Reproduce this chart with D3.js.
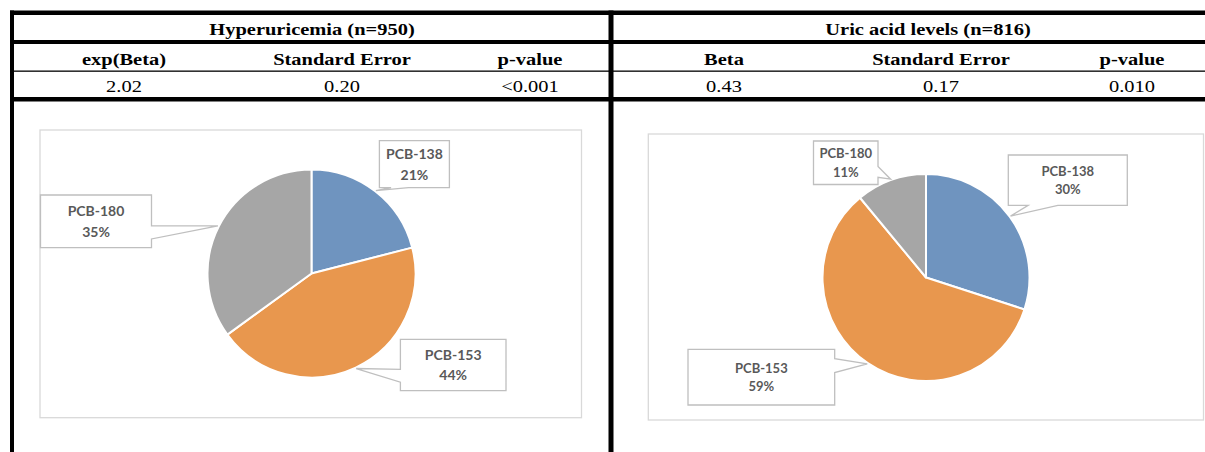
<!DOCTYPE html>
<html>
<head>
<meta charset="utf-8">
<script src="https://cdn.jsdelivr.net/npm/d3@7"></script>
<style>
  html, body { margin: 0; padding: 0; background: #fff; }
  svg { display: block; }
</style>
</head>
<body>
<svg id="chart" width="1205" height="452"></svg>
<script>
// ---- Data ----
const compounds = ["PCB-138", "PCB-153", "PCB-180"];
const hyperuricemiaShare = [21, 44, 35];   // % contribution, hyperuricemia model
const uricAcidShare = [30, 59, 11];        // % contribution, uric acid model

const tableTitles = ["Hyperuricemia (n=950)", "Uric acid levels (n=816)"];
const hyperHeaders = ["exp(Beta)", "Standard Error", "p-value"];
const hyperValues = ["2.02", "0.20", "<0.001"];
const uricHeaders = ["Beta", "Standard Error", "p-value"];
const uricValues = ["0.43", "0.17", "0.010"];

const sliceColors = ["#6f94bf", "#e8974e", "#a6a6a6"];

// ---- Layout ----
const panels = [
  {
    title: tableTitles[0], headers: hyperHeaders, values: hyperValues, shares: hyperuricemiaShare,
    titleX: 312, colX: [124, 342, 530],
    frame: [40, 130, 581.5, 417.7],
    center: [311.5, 273.5], r: 104,
    fontSize: 14, lineGap: 20.7,
    callouts: [[379.4, 140.7, 70, 47], [400.4, 339.3, 105.6, 51.4], [40.5, 195, 111, 52.7]]
  },
  {
    title: tableTitles[1], headers: uricHeaders, values: uricValues, shares: uricAcidShare,
    titleX: 928, colX: [724, 941, 1132],
    frame: [648.3, 134, 1203.5, 420],
    center: [926, 277.5], r: 103.5,
    fontSize: 13, lineGap: 18.4,
    callouts: [[1008.3, 155, 119, 50.3], [688, 349.3, 146.7, 55.7], [813.5, 141, 64.5, 43.5]]
  }
];

const svg = d3.select("#chart");

// ---- Table rules ----
const rules = [
  { x: 10, y: 10.5, w: 1195, h: 4.5 },
  { x: 10, y: 40, w: 1195, h: 4 },
  { x: 10, y: 70.5, w: 1195, h: 1.3 },
  { x: 10, y: 97, w: 1195, h: 4.5 },
  { x: 10, y: 10.5, w: 4, h: 442 },
  { x: 608.5, y: 10.5, w: 5, h: 442 }
];
svg.append("g").selectAll("rect").data(rules).join("rect")
  .attr("x", d => d.x).attr("y", d => d.y)
  .attr("width", d => d.w).attr("height", d => d.h)
  .attr("fill", "#000");

// Serif table text, slightly widened like the source typesetting
function tableText(g, x, y, str, bold) {
  g.append("text")
    .attr("transform", `translate(${x},${y}) scale(1.17,1)`)
    .attr("text-anchor", "middle")
    .attr("font-family", "'Liberation Serif', 'Times New Roman', serif")
    .attr("font-size", 17.5)
    .attr("font-weight", bold ? "bold" : "normal")
    .attr("fill", "#000")
    .text(str);
}

// Wedge-shaped callout outline (rectangle with a pointer towards the tip)
function calloutPath(x, y, w, h, tx, ty) {
  const cx = x + w / 2, cy = y + h / 2;
  const dx = (tx - cx) / w, dy = (ty - cy) / h;
  const p = d3.path();
  p.moveTo(x, y);
  if (Math.abs(dx) > Math.abs(dy)) {
    const b1 = ty < cy ? y + h * 2 / 12 : y + h * 7 / 12;
    const b2 = ty < cy ? y + h * 5 / 12 : y + h * 10 / 12;
    if (dx > 0) {
      p.lineTo(x + w, y); p.lineTo(x + w, b1); p.lineTo(tx, ty); p.lineTo(x + w, b2);
      p.lineTo(x + w, y + h); p.lineTo(x, y + h);
    } else {
      p.lineTo(x + w, y); p.lineTo(x + w, y + h); p.lineTo(x, y + h);
      p.lineTo(x, b2); p.lineTo(tx, ty); p.lineTo(x, b1);
    }
  } else {
    const b1 = tx < cx ? x + w * 2 / 12 : x + w * 7 / 12;
    const b2 = tx < cx ? x + w * 5 / 12 : x + w * 10 / 12;
    if (dy > 0) {
      p.lineTo(x + w, y); p.lineTo(x + w, y + h);
      p.lineTo(b2, y + h); p.lineTo(tx, ty); p.lineTo(b1, y + h); p.lineTo(x, y + h);
    } else {
      p.lineTo(b1, y); p.lineTo(tx, ty); p.lineTo(b2, y);
      p.lineTo(x + w, y); p.lineTo(x + w, y + h); p.lineTo(x, y + h);
    }
  }
  p.closePath();
  return p.toString();
}

panels.forEach(pn => {
  const g = svg.append("g");

  // table header and statistics
  tableText(g, pn.titleX, 34.5, pn.title, true);
  pn.headers.forEach((h, i) => tableText(g, pn.colX[i], 65.3, h, true));
  pn.values.forEach((v, i) => tableText(g, pn.colX[i], 92, v, false));

  // chart frame
  const [fx0, fy0, fx1, fy1] = pn.frame;
  g.append("rect")
    .attr("x", fx0).attr("y", fy0)
    .attr("width", fx1 - fx0).attr("height", fy1 - fy0)
    .attr("fill", "#fff").attr("stroke", "#d9d9d9").attr("stroke-width", 1.3);

  // pie
  const pie = d3.pie().sort(null).value(d => d);
  const arcs = pie(pn.shares);
  const arc = d3.arc().innerRadius(0).outerRadius(pn.r);
  const edge = d3.arc().innerRadius(pn.r + 1).outerRadius(pn.r + 1);
  const color = d3.scaleOrdinal().domain(compounds).range(sliceColors);

  const pg = g.append("g").attr("transform", `translate(${pn.center[0]},${pn.center[1]})`);
  pg.selectAll("path").data(arcs).join("path")
    .attr("d", arc)
    .attr("fill", (d, i) => color(compounds[i]))
    .attr("stroke", "#fff").attr("stroke-width", 2).attr("stroke-linejoin", "round");

  // data callouts
  arcs.forEach((a, i) => {
    const [ex, ey] = edge.centroid(a);
    const tx = pn.center[0] + ex, ty = pn.center[1] + ey;
    const [bx, by, bw, bh] = pn.callouts[i];
    g.append("path")
      .attr("d", calloutPath(bx, by, bw, bh, tx, ty))
      .attr("fill", "#fff").attr("stroke", "#bfbfbf").attr("stroke-width", 1.3)
      .attr("stroke-linejoin", "miter");
    const cx = bx + bw / 2, cy = by + bh / 2;
    const lines = [compounds[i], pn.shares[i] + "%"];
    lines.forEach((t, k) => {
      g.append("text")
        .attr("x", cx)
        .attr("y", cy + (k - 0.5) * pn.lineGap)
        .attr("dy", "0.36em")
        .attr("text-anchor", "middle")
        .attr("font-family", "Lato, 'Open Sans', sans-serif")
        .attr("font-weight", "bold")
        .attr("font-size", pn.fontSize)
        .attr("fill", "#595959")
        .text(t);
    });
  });
});
</script>
</body>
</html>
